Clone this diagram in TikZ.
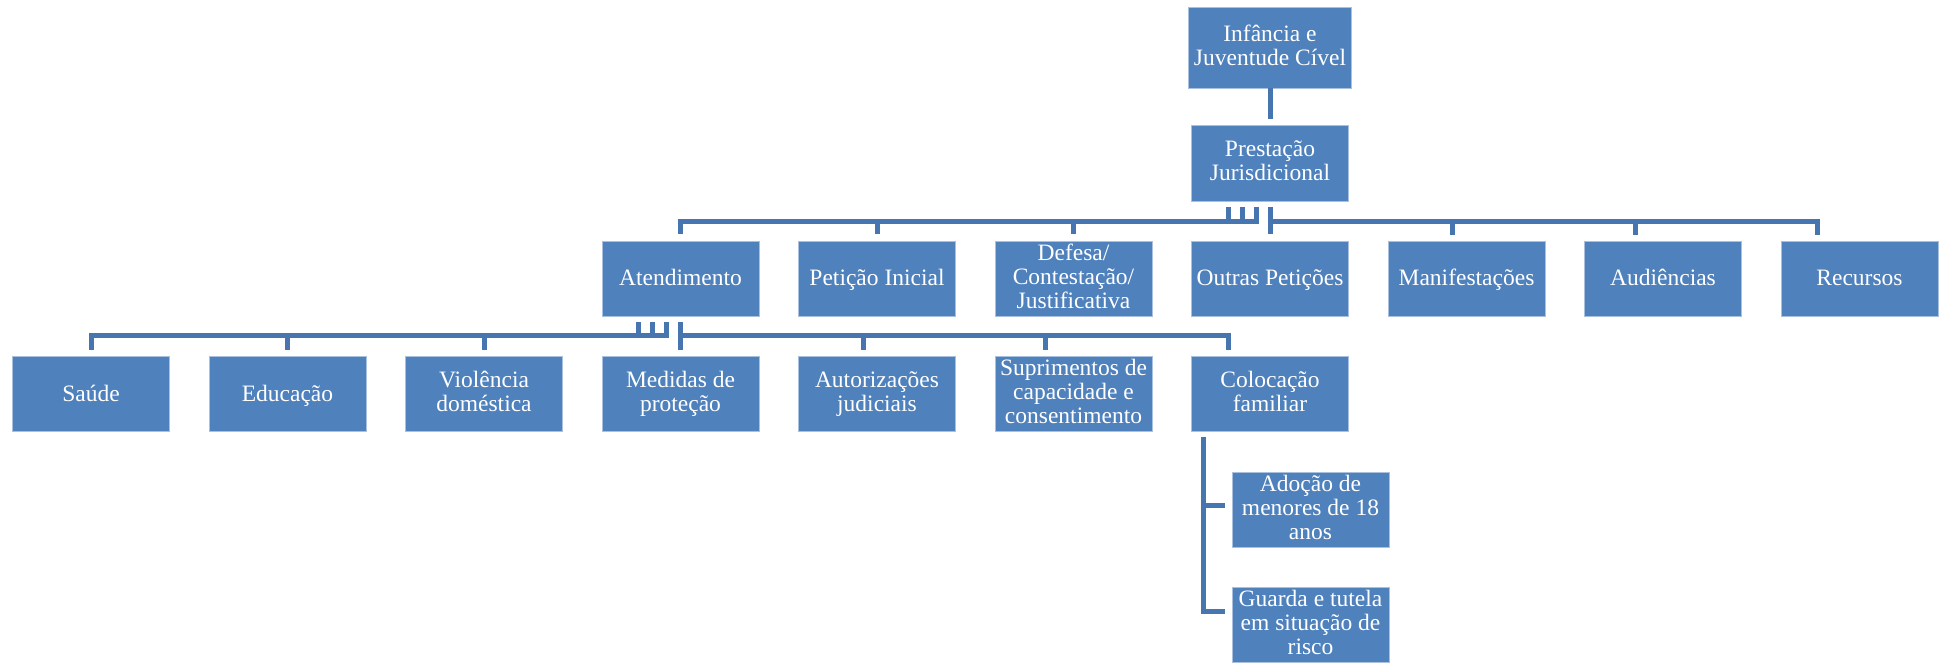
\documentclass[tikz,border=0pt]{standalone}
\usepackage{fontspec}
\setmainfont{Liberation Serif}

\definecolor{boxblue}{HTML}{4F81BD}
\definecolor{boxedge}{HTML}{A9C0DE}
\definecolor{linkblue}{HTML}{4675B0}

% fixed first-line height and last-line depth, so every label sits alike
\newcommand{\toprule}{\rule{0pt}{19.5pt}}
\newcommand{\botrule}{\rule[-5pt]{0pt}{5pt}}

\begin{document}
\begin{tikzpicture}[x=1pt,y=-1pt,
  box/.style={rectangle, fill=boxblue, draw=boxedge, line width=0.8pt,
    minimum width=157pt, minimum height=75pt, inner sep=1pt,
    align=center, text=white, font=\fontsize{23.5}{24}\selectfont,
    execute at begin node=\toprule, execute at end node=\botrule},
  conn/.style={draw=linkblue, line width=5pt, line join=miter},
]
\useasboundingbox (0,0) rectangle (1946,662);

% top of the hierarchy
\node[box, minimum width=163pt, minimum height=81pt] (inf) at (1270,47.5) {Infância e\\Juventude Cível};
\node[box, minimum height=76pt] (pre) at (1270,163) {Prestação\\Jurisdicional};

% first level
\node[box] (atd) at (680.5,278.5) {Atendimento};
\node[box] (pet) at (877,278.5) {Petição Inicial};
\node[box] (def) at (1073.5,278.5) {Defesa/\\Contestação/\\Justificativa};
\node[box] (out) at (1270,278.5) {Outras Petições};
\node[box] (man) at (1466.5,278.5) {Manifestações};
\node[box] (aud) at (1663,278.5) {Audiências};
\node[box] (rec) at (1859.5,278.5) {Recursos};

% second level, under Atendimento
\node[box] (sau) at (91,394) {Saúde};
\node[box] (edu) at (287.5,394) {Educação};
\node[box] (vio) at (484,394) {Violência\\doméstica};
\node[box] (med) at (680.5,394) {Medidas de\\proteção};
\node[box] (aut) at (877,394) {Autorizações\\judiciais};
\node[box] (sup) at (1073.5,394) {Suprimentos de\\capacidade e\\consentimento};
\node[box] (col) at (1270,394) {Colocação\\familiar};

% third level, under Colocação familiar
\node[box] (ado) at (1310.5,509.5) {Adoção de\\menores de 18\\anos};
\node[box] (gua) at (1310.5,624.5) {Guarda e tutela\\em situação de\\risco};

% connectors: left children leave the parent at staggered points,
% right children are reached at staggered points left of their centre
\draw[conn, shorten >=6pt] (inf.south) -- (pre.north);

\foreach \c/\d in {atd/-42, pet/-28, def/-14}
  \draw[conn, shorten >=7pt] ([xshift=\d pt, yshift=-6pt]pre.south) -- ++(0pt,-14pt) -| (\c.north);
\draw[conn, shorten >=7pt] ([yshift=-6pt]pre.south) -- (out.north);
\foreach \c/\d in {man/-14, aud/-28, rec/-42}
  \draw[conn, shorten >=6pt] ([yshift=-6pt]pre.south) -- ++(0pt,-14pt) -| ([xshift=\d pt]\c.north);

\foreach \c/\d in {sau/-42, edu/-28, vio/-14}
  \draw[conn, shorten >=6pt] ([xshift=\d pt, yshift=-6pt]atd.south) -- ++(0pt,-13pt) -| (\c.north);
\draw[conn, shorten >=6pt] ([yshift=-6pt]atd.south) -- (med.north);
\foreach \c/\d in {aut/-14, sup/-28, col/-42}
  \draw[conn, shorten >=6pt] ([yshift=-6pt]atd.south) -- ++(0pt,-13pt) -| ([xshift=\d pt]\c.north);

\coordinate (cs) at ([xshift=12.5pt, yshift=-5pt]col.south west);
\coordinate (ka) at (1225,505);
\coordinate (kb) at (1225,611);
\draw[conn] (cs) |- (ka);
\draw[conn] (cs) |- (kb);
\end{tikzpicture}
\end{document}
